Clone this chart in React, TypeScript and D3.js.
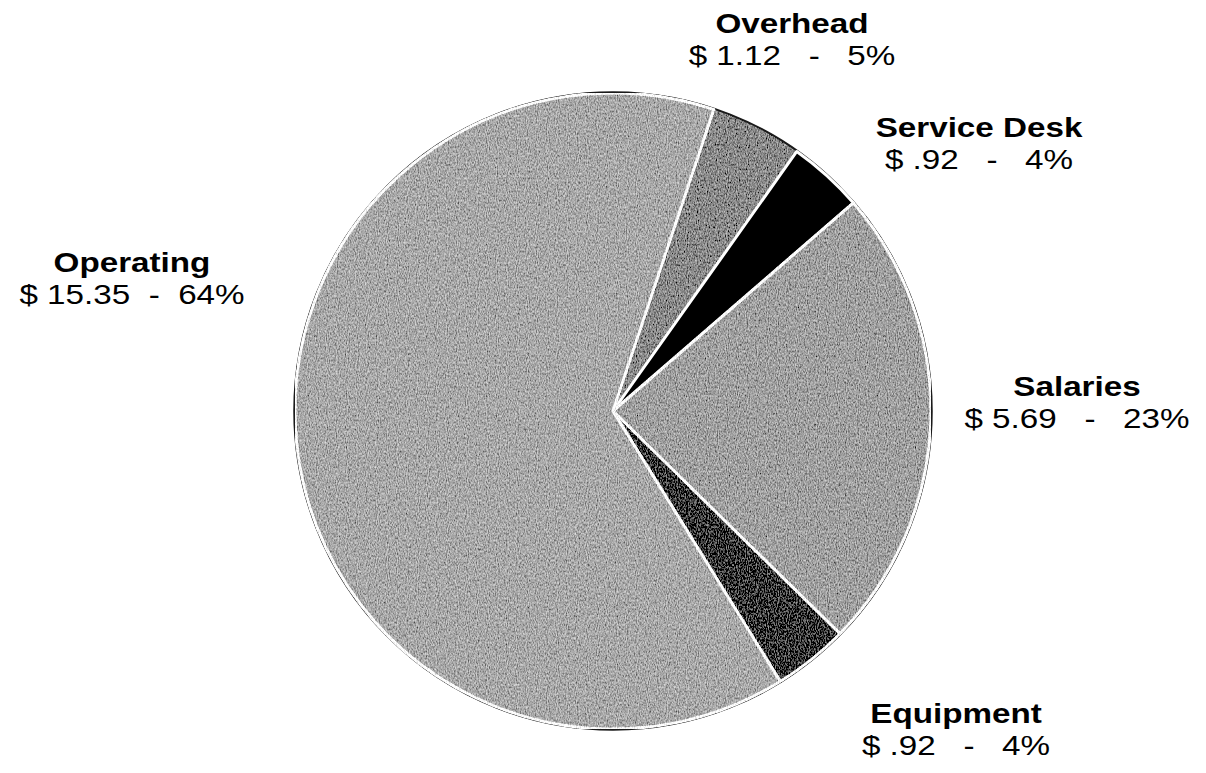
import React, { useRef, useEffect } from 'react';
import * as d3 from 'd3';

// cost breakdown ($ millions)
const categories = ['Overhead', 'Service Desk', 'Salaries', 'Equipment', 'Operating'];
const values = [1.12, 0.92, 5.69, 0.92, 15.35];
const percents = [5, 4, 23, 4, 64];

export default function App() {
  const svgRef = useRef<SVGSVGElement>(null);

  useEffect(() => {
    const width = 1206;
    const height = 773;
    const cx = 613;
    const cy = 411;
    const radius = 318;

    const svg = d3.select(svgRef.current);
    svg.selectAll('*').remove();

    const defs = svg.append('defs');
    // grainy scan look
    const filter = defs.append('filter').attr('id', 'grain')
      .attr('x', 0).attr('y', 0).attr('width', '100%').attr('height', '100%');
    filter.append('feTurbulence')
      .attr('type', 'fractalNoise')
      .attr('baseFrequency', '0.9 0.45')
      .attr('numOctaves', 2)
      .attr('seed', 3)
      .attr('result', 'noise');
    filter.append('feColorMatrix')
      .attr('in', 'noise')
      .attr('type', 'matrix')
      .attr('values', '1 0 0 0 0  1 0 0 0 0  1 0 0 0 0  0 0 0 0 1')
      .attr('result', 'gray');
    filter.append('feComposite')
      .attr('in', 'SourceGraphic')
      .attr('in2', 'gray')
      .attr('operator', 'arithmetic')
      .attr('k1', 0).attr('k2', 1).attr('k3', 0.9).attr('k4', -0.45)
      .attr('result', 'mix');
    filter.append('feComposite')
      .attr('in', 'mix')
      .attr('in2', 'SourceGraphic')
      .attr('operator', 'in');

    const fills = d3.scaleOrdinal<string, string>()
      .domain(categories)
      .range(['#8a8a8a', '#000000', '#a0a0a0', '#353535', '#a8a8a8']);

    const start = (18.5 * Math.PI) / 180;
    const pie = d3.pie<number>()
      .sort(null)
      .value(d => d)
      .startAngle(start)
      .endAngle(start + 2 * Math.PI);
    const arcs = pie(values);
    const arc = d3.arc<d3.PieArcDatum<number>>().innerRadius(0).outerRadius(radius);

    const g = svg.append('g').attr('transform', `translate(${cx},${cy})`);

    g.append('circle')
      .attr('r', radius + 0.5)
      .attr('fill', 'none')
      .attr('stroke', '#1a1a1a')
      .attr('stroke-width', 2.5);

    g.selectAll('path.slice')
      .data(arcs)
      .enter()
      .append('path')
      .attr('class', 'slice')
      .attr('d', arc)
      .attr('fill', (d, i) => fills(categories[i]))
      .attr('filter', (d, i) => (categories[i] === 'Service Desk' ? null : 'url(#grain)'))
      .attr('stroke', (d, i) => (categories[i] === 'Overhead' ? 'none' : '#ffffff'))
      .attr('stroke-width', 3)
      .attr('stroke-linejoin', 'round');

    // label anchor positions, same order as categories
    const labelPos = [
      { x: 792, y: 33 },
      { x: 979, y: 137 },
      { x: 1077, y: 396 },
      { x: 956, y: 723 },
      { x: 132, y: 272 },
    ];

    const fmt = (v: number) => {
      const s = v.toFixed(2);
      return s.startsWith('0') ? s.slice(1) : s;
    };

    const labels = svg.selectAll('g.label')
      .data(categories)
      .enter()
      .append('g')
      .attr('class', 'label')
      .attr('transform', (d, i) => `translate(${labelPos[i].x},${labelPos[i].y}) scale(1.23,1)`)
      .style('font-family', 'Arial, "Liberation Sans", sans-serif')
      .style('font-size', '27px')
      .attr('text-anchor', 'middle')
      .attr('fill', '#000');

    labels.append('text')
      .style('font-weight', 'bold')
      .text(d => d);

    labels.append('text')
      .attr('y', 32)
      .style('white-space', 'pre')
      .text((d, i) => {
        const gap = categories[i] === 'Operating' ? '  -  ' : '   -   ';
        return `$ ${fmt(values[i])}${gap}${percents[i]}%`;
      });

    svg.attr('width', width).attr('height', height);
  }, []);

  return (
    <svg
      ref={svgRef}
      width={1206}
      height={773}
      style={{ position: 'absolute', left: 0, top: 0, background: '#fff' }}
    ></svg>
  );
}
